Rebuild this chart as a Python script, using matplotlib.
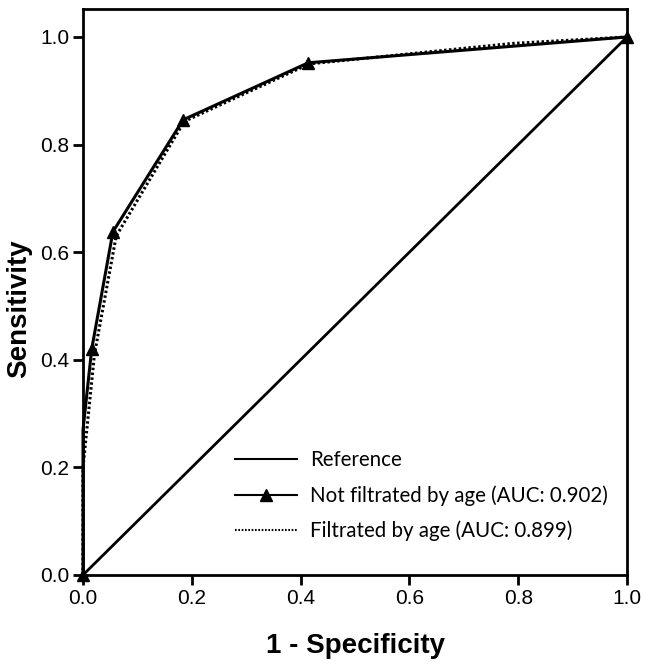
import matplotlib
matplotlib.use("Agg")
import matplotlib.pyplot as plt

# ROC data
ref_x = [0.0, 1.0]
ref_y = [0.0, 1.0]

nf_x = [0.0, 0.0, 0.016, 0.055, 0.184, 0.414, 1.0]
nf_y = [0.0, 0.27, 0.42, 0.638, 0.846, 0.952, 1.0]

f_x = [0.0, 0.0, 0.021, 0.061, 0.186, 0.416, 0.79, 1.0]
f_y = [0.0, 0.20, 0.41, 0.63, 0.843, 0.95, 0.988, 1.0]

x_ticks = [0.0, 0.2, 0.4, 0.6, 0.8, 1.0]
y_ticks = [0.0, 0.2, 0.4, 0.6, 0.8, 1.0]

plt.rcParams['font.family'] = ['Liberation Sans', 'DejaVu Sans']

fig = plt.figure(figsize=(6.46, 6.71), dpi=100)
ax = fig.add_axes([0.1285, 0.1431, 0.8421, 0.8435])

ax.plot(ref_x, ref_y, color='black', lw=2.0, label='Reference', clip_on=False)
ax.plot(nf_x, nf_y, color='black', lw=2.2, marker='^', markersize=8,
        markevery=[0, 2, 3, 4, 5, 6], label='Not filtrated by age (AUC: 0.902)',
        clip_on=False, zorder=4)
ax.plot(f_x, f_y, color='black', lw=2.2, linestyle=(0, (0.8, 0.8)),
        label='Filtrated by age (AUC: 0.899)', clip_on=False, zorder=3)

ax.set_xlim(0, 1.0)
ax.set_ylim(0, 1.052)
ax.set_xticks(x_ticks)
ax.set_yticks(y_ticks)
ax.set_xticklabels([f'{v:.1f}' for v in x_ticks])
ax.set_yticklabels([f'{v:.1f}' for v in y_ticks])
ax.tick_params(direction='out', length=7, width=2, labelsize=15, pad=3)
for s in ax.spines.values():
    s.set_linewidth(2)

ax.set_xlabel('1 - Specificity', fontsize=20, fontweight='bold', labelpad=18)
ax.set_ylabel('Sensitivity', fontsize=20, fontweight='bold')
ax.yaxis.set_label_coords(-0.094, 0.47)

leg = ax.legend(loc='lower right', bbox_to_anchor=(0.999, 0.027), frameon=False,
                prop={'family': 'Lato', 'size': 14.8}, handlelength=3.0,
                handletextpad=0.65, labelspacing=0.72)
for h in leg.legend_handles:
    h.set_linewidth(1.5)

fig.savefig('out.png', dpi=100)
